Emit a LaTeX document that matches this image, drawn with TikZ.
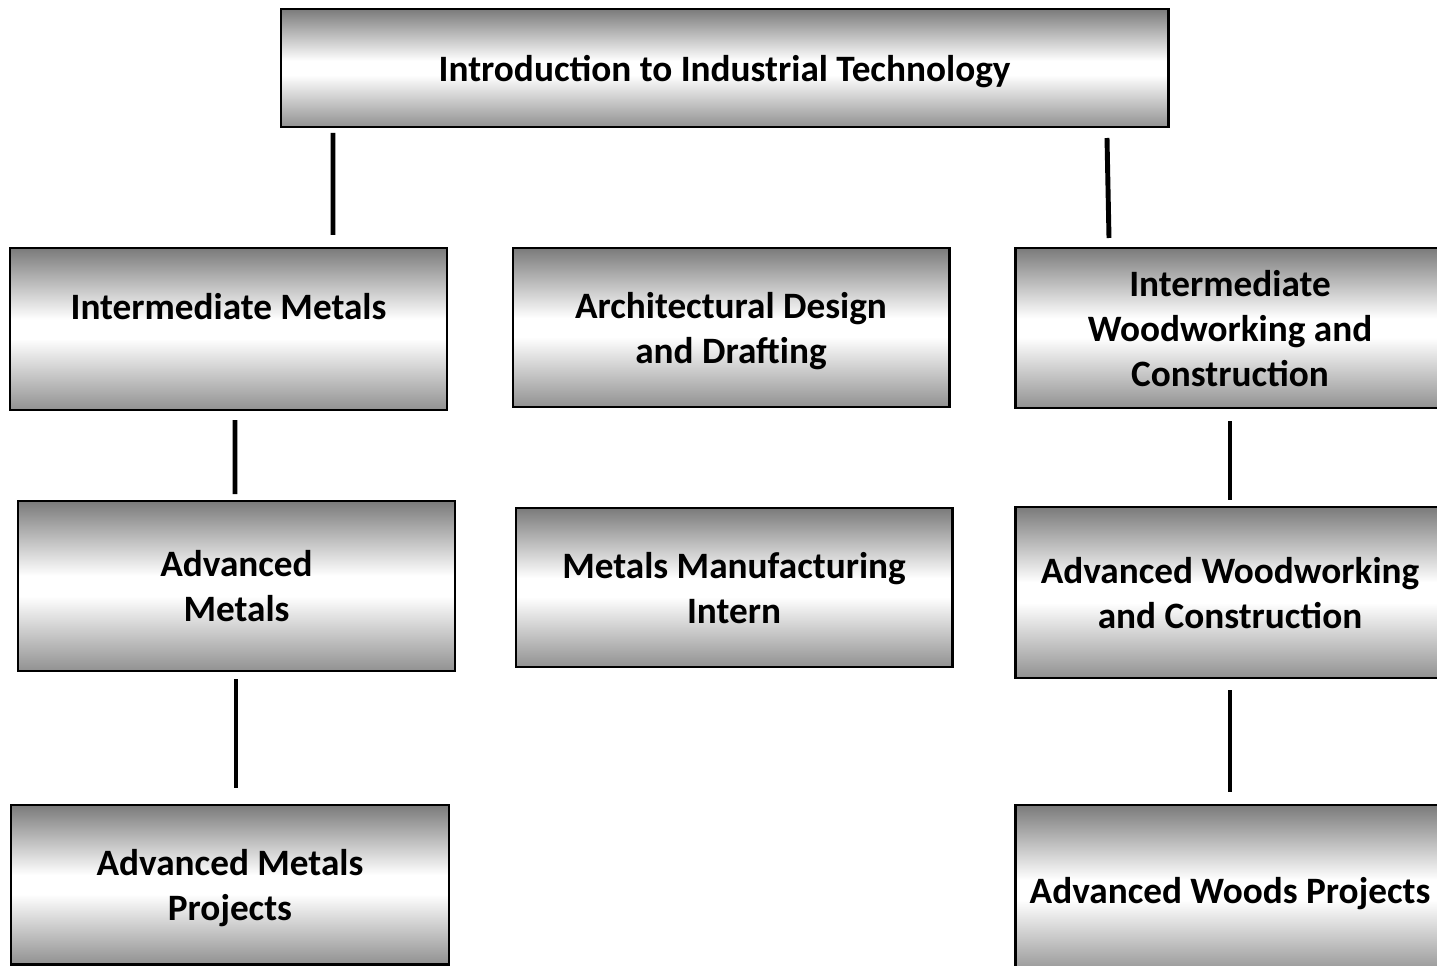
\documentclass[tikz,border=0pt]{standalone}
\usepackage{fontspec}
\setmainfont{Carlito}
\usetikzlibrary{calc}

\newcommand{\px}{0.02cm}
\pgfdeclareverticalshading{metal}{100bp}{color(0bp)=(black!43); color(25bp)=(black!43); color(47bp)=(white); color(53bp)=(white); color(75bp)=(black!52); color(100bp)=(black!52)}

\tikzset{
  course/.style={draw=black, line width=1.7pt, shading=metal, align=center, outer sep=0pt, inner sep=0pt,
    font=\fontsize{21.2}{25.6}\selectfont\bfseries, text depth=-1.3pt},
  link/.style={line width=2.8pt}
}

\begin{document}
\begin{tikzpicture}[x=\px,y=-\px]
    \useasboundingbox (0,0) rectangle (1437,966);

    % courses
    \node[course, minimum width=887*\px, minimum height=118*\px] (intro) at (724.5,68) {Introduction to Industrial Technology};

    \node[course, minimum width=437*\px, minimum height=162*\px] (imetals) at (228.5,329) {Intermediate Metals\\~};
    \node[course, minimum width=436*\px, minimum height=159*\px] (arch) at (731,327.5) {Architectural Design\\and Drafting};
    \node[course, minimum width=430*\px, minimum height=160*\px] (iwood) at (1230,328) {Intermediate\\Woodworking and\\Construction};

    \node[course, minimum width=437*\px, minimum height=170*\px] (ametals) at (236.5,586) {Advanced\\Metals};
    \node[course, minimum width=436*\px, minimum height=159*\px] (intern) at (734,587.5) {Metals Manufacturing\\Intern};
    \node[course, minimum width=430*\px, minimum height=171*\px] (awood) at (1230,592.5) {Advanced Woodworking\\and Construction};

    \node[course, minimum width=438*\px, minimum height=159*\px] (mprojects) at (230,884.5) {Advanced Metals\\Projects};
    \node[course, minimum width=430*\px, minimum height=170*\px] (wprojects) at (1230,890) {Advanced Woods Projects};

    % connectors
    \draw[link] ($(intro.south west)+(52,6)$) -- ($(imetals.north)+(104.5,-13)$);
    \draw[link] ($(intro.south east)+(-61,11)$) -- ($(iwood.north)+(-121,-10)$);
    \draw[link] ($(imetals.south)+(6.5,10)$) -- ($(ametals.north)+(-1.5,-7)$);
    \draw[link] ($(ametals.south)+(-0.5,8)$) -- ($(mprojects.north)+(6,-17)$);
    \draw[link] ($(iwood.south)+(0,13)$) -- ($(awood.north)+(0,-7)$);
    \draw[link] ($(awood.south)+(0,12)$) -- ($(wprojects.north)+(0,-13)$);
\end{tikzpicture}
\end{document}
